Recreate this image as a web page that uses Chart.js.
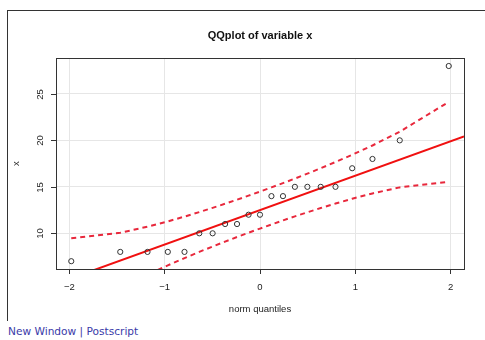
<!DOCTYPE html>
<html>
<head>
<meta charset="utf-8">
<script src="https://cdn.jsdelivr.net/npm/chart.js@4/dist/chart.umd.min.js"></script>
<style>
  body { margin: 0; background: #fff; overflow: hidden; }
  .frame { position: absolute; left: 7px; top: 10px; width: 600px; height: 310px;
           border-left: 1px solid #333; border-top: 1px solid #333; }
  .wrap { position: absolute; left: 0; top: 0; width: 485px; height: 320px; }
  .links { position: absolute; left: 8px; top: 325px; font: 10.6px "DejaVu Sans", sans-serif; color: #3a3aa8; }
</style>
</head>
<body>
<div class="frame"></div>
<div class="wrap"><canvas id="qq"></canvas></div>
<div class="links">New Window | Postscript</div>
<script>
// theoretical normal quantiles and sorted sample values
const normQuantiles = [-1.98, -1.466, -1.18, -0.967, -0.792, -0.637, -0.497, -0.366, -0.241, -0.12, 0,
                       0.12, 0.241, 0.366, 0.497, 0.637, 0.792, 0.967, 1.18, 1.466, 1.98];
const sampleX = [7, 8, 8, 8, 8, 10, 10, 11, 11, 12, 12, 14, 14, 15, 15, 15, 15, 17, 18, 20, 28];
// confidence envelope read at each quantile
const upperBand = [9.46, 10.06, 10.71, 11.28, 11.80, 12.28, 12.74, 13.18, 13.62, 14.05, 14.49,
                   14.94, 15.40, 15.89, 16.42, 17.00, 17.67, 18.45, 19.45, 20.93, 24.14];
const lowerBand = [0.86, 4.07, 5.55, 6.55, 7.33, 8.00, 8.58, 9.11, 9.60, 10.06, 10.51,
                   10.95, 11.39, 11.82, 12.26, 12.72, 13.20, 13.72, 14.29, 14.94, 15.54];
// reference line end points
const lineX = [-2.14, 2.14];
const lineY = [4.57, 20.43];
const xTicks = [-2, -1, 0, 1, 2];
const yTicks = [10, 15, 20, 25];

const pts = (xs, ys) => xs.map((x, i) => ({ x: x, y: ys[i] }));
const FONT = '"Liberation Sans", Arial, sans-serif';

const rDecor = {
  id: 'rDecor',
  afterDraw(chart) {
    const ctx = chart.ctx, a = chart.chartArea, ys = chart.scales.y;
    ctx.save();
    ctx.strokeStyle = '#333';
    ctx.lineWidth = 1;
    ctx.strokeRect(Math.round(a.left) + 0.5, Math.round(a.top) + 0.5,
                   Math.round(a.right - a.left), Math.round(a.bottom - a.top));
    // y ticks, R style rotated labels
    ctx.fillStyle = '#222';
    ctx.font = '9.5px ' + FONT;
    yTicks.forEach(v => {
      const py = Math.round(ys.getPixelForValue(v)) + 0.5;
      ctx.beginPath();
      ctx.moveTo(a.left, py);
      ctx.lineTo(a.left - 5, py);
      ctx.stroke();
      ctx.save();
      ctx.translate(40, py);
      ctx.rotate(-Math.PI / 2);
      ctx.textAlign = 'center';
      ctx.textBaseline = 'middle';
      ctx.fillText(String(v), 0, 0);
      ctx.restore();
    });
    ctx.save();
    ctx.translate(16, (a.top + a.bottom) / 2);
    ctx.rotate(-Math.PI / 2);
    ctx.textAlign = 'center';
    ctx.textBaseline = 'middle';
    ctx.fillText('x', 0, 0);
    ctx.restore();
    ctx.restore();
  }
};

new Chart(document.getElementById('qq'), {
  type: 'scatter',
  data: {
    datasets: [
      { data: pts(normQuantiles, sampleX), showLine: false, pointStyle: 'circle', pointRadius: 2.6,
        borderColor: '#333', borderWidth: 1, backgroundColor: 'rgba(0,0,0,0)' },
      { data: pts(lineX, lineY), showLine: true, borderColor: '#f01010', borderWidth: 2, pointRadius: 0 },
      { data: pts(normQuantiles, upperBand), showLine: true, borderColor: '#e8283c', borderWidth: 2,
        borderDash: [5, 4], pointRadius: 0 },
      { data: pts(normQuantiles, lowerBand), showLine: true, borderColor: '#e8283c', borderWidth: 2,
        borderDash: [5, 4], pointRadius: 0 }
    ]
  },
  options: {
    responsive: true,
    maintainAspectRatio: false,
    animation: false,
    layout: { padding: { left: 56, top: 0, right: 21, bottom: 0 } },
    plugins: {
      legend: { display: false },
      tooltip: { enabled: false },
      title: { display: true, text: 'QQplot of variable x', color: '#111',
               font: { family: FONT, size: 11, weight: 'bold' }, padding: { top: 29, bottom: 16 } },
    },
    scales: {
      x: {
        type: 'linear', min: -2.14, max: 2.14,
        afterBuildTicks: s => { s.ticks = xTicks.map(v => ({ value: v })); },
        grid: { color: '#e6e6e6', tickColor: '#333', tickLength: 5, drawOnChartArea: true },
        border: { display: false },
        ticks: { color: '#222', font: { family: FONT, size: 9.5 }, padding: 8, maxRotation: 0,
                 callback: v => v < 0 ? '\u2212' + Math.abs(v) : String(v) },
        title: { display: true, text: 'norm quantiles', color: '#222', font: { family: FONT, size: 9.5 },
                 padding: { top: 9, bottom: 5 } },
        afterFit: s => { s.height = 51; }
      },
      y: {
        type: 'linear', min: 6.16, max: 28.84,
        afterBuildTicks: s => { s.ticks = yTicks.map(v => ({ value: v })); },
        grid: { color: '#e6e6e6', drawTicks: false },
        border: { display: false },
        ticks: { display: false },
        afterFit: s => { s.width = 0; }
      }
    }
  },
  plugins: [rDecor]
});
</script>
</body>
</html>
